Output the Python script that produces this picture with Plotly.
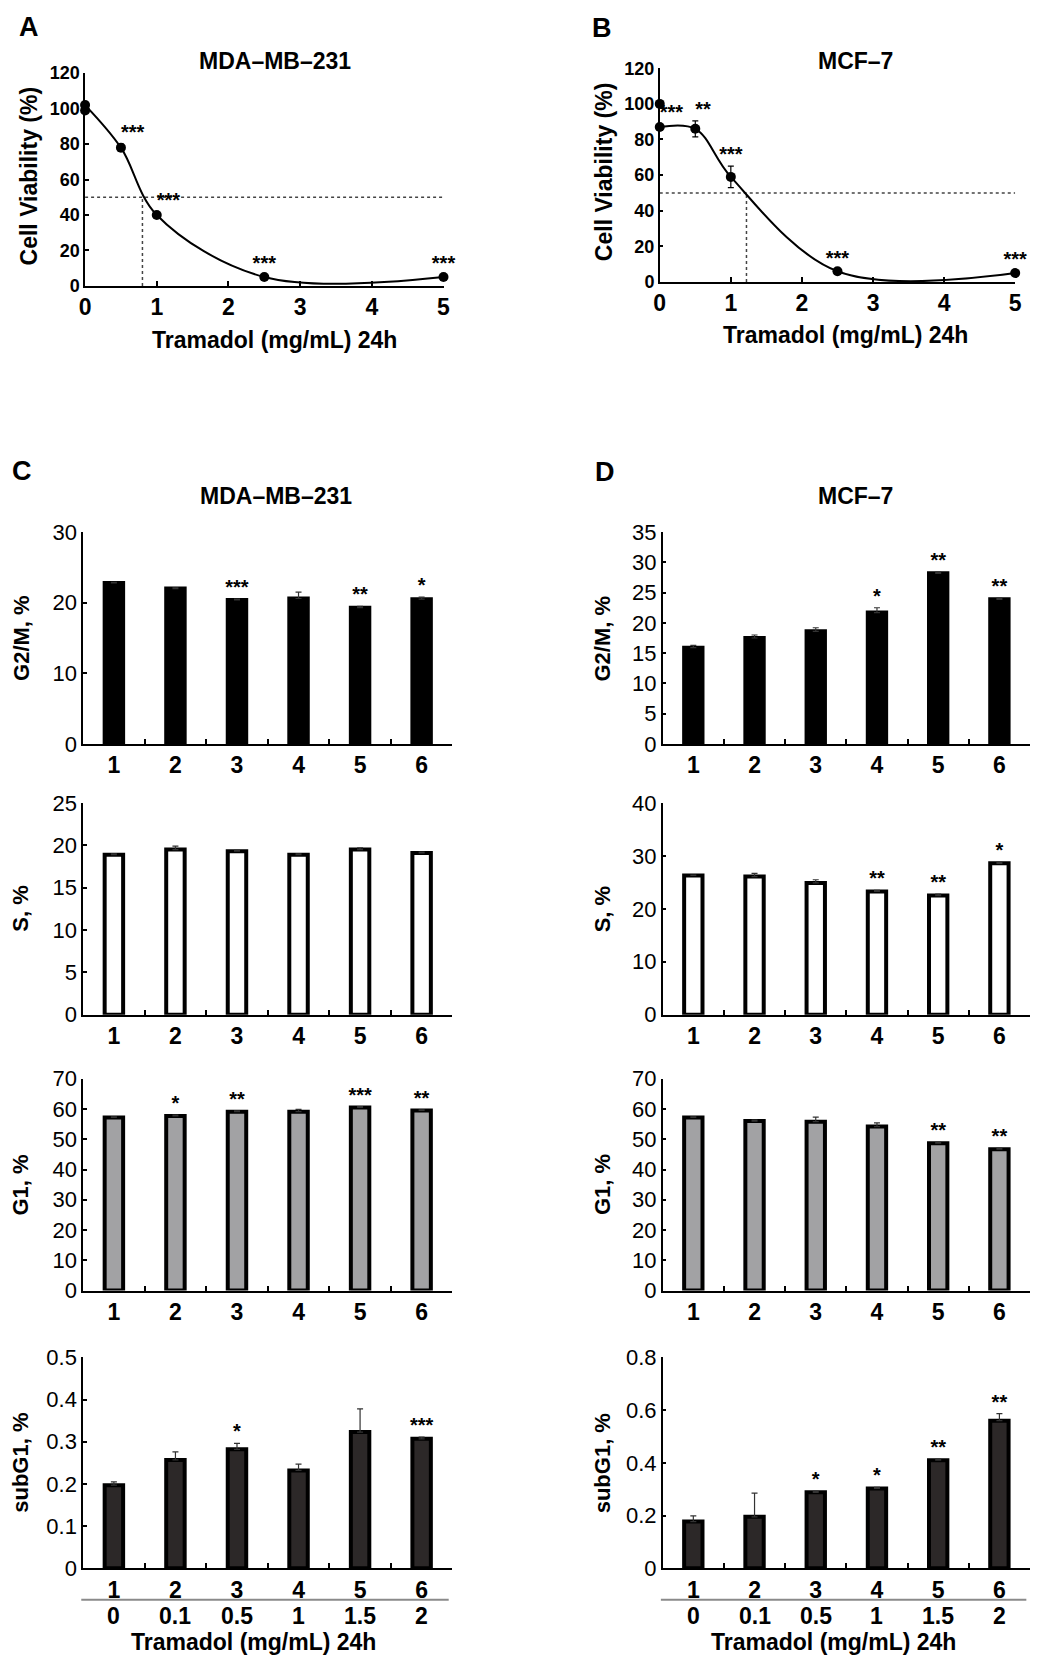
import plotly.graph_objects as go

W, H = 1046, 1670          # page size
PAD = 8                    # default body margin of the html page
FW, FH = W - 2 * PAD, H - 2 * PAD
FONT = "Liberation Sans, Arial, sans-serif"

# ---- A / B : cell viability curves ----
dose_mg = [0, 0.5, 1, 2.5, 5]
viab_ticks = [0, 20, 40, 60, 80, 100, 120]
half_viab = 50

mda_viab = [102, 78, 40, 5, 5]
mda_err = [1.5, 2, 1.5, 1, 1]
mda_ctrl = [99]
mda_sig = ["", "***", "***", "***", "***"]
mda_ic50 = 0.8

mcf_viab = [87, 86, 59, 6, 5]
mcf_err = [1.5, 4.5, 6, 1, 1]
mcf_ctrl = [100]
mcf_sig = ["***", "**", "***", "***", "***"]
mcf_ic50 = 1.22

# ---- C / D : cell cycle bars ----
groups = ["1", "2", "3", "4", "5", "6"]
tramadol_doses = ["0", "0.1", "0.5", "1", "1.5", "2"]

c_g2m = [22.8, 22.0, 20.4, 20.6, 19.3, 20.5]
c_g2m_err = [0.1, 0.1, 0.1, 0.9, 0.2, 0.3]
c_g2m_sig = ["", "", "***", "", "**", "*"]
c_s = [18.9, 19.5, 19.3, 18.9, 19.5, 19.1]
c_s_err = [0.1, 0.4, 0.1, 0.1, 0.2, 0.1]
c_s_sig = ["", "", "", "", "", ""]
c_g1 = [57.2, 57.7, 59.1, 59.1, 60.5, 59.5]
c_g1_err = [0.2, 0.3, 0.3, 0.8, 0.3, 0.2]
c_g1_sig = ["", "*", "**", "", "***", "**"]
c_sub = [0.197, 0.257, 0.282, 0.232, 0.323, 0.307]
c_sub_err = [0.008, 0.019, 0.014, 0.015, 0.055, 0.004]
c_sub_sig = ["", "", "*", "", "", "***"]

d_g2m = [15.9, 17.5, 18.6, 21.7, 28.2, 23.9]
d_g2m_err = [0.4, 0.5, 0.6, 0.8, 0.2, 0.2]
d_g2m_sig = ["", "", "", "*", "**", "**"]
d_s = [26.3, 26.1, 24.9, 23.3, 22.5, 28.6]
d_s_err = [0.1, 0.6, 0.6, 0.2, 0.3, 0.2]
d_s_sig = ["", "", "", "**", "**", "*"]
d_g1 = [57.2, 56.0, 55.8, 54.2, 48.7, 46.7]
d_g1_err = [0.2, 0.3, 1.5, 1.2, 0.3, 0.3]
d_g1_sig = ["", "", "", "", "**", "**"]
d_sub = [0.177, 0.195, 0.288, 0.303, 0.41, 0.56]
d_sub_err = [0.022, 0.09, 0.004, 0.004, 0.004, 0.027]
d_sub_sig = ["", "", "*", "*", "**", "**"]


# page pixel -> paper coords
def xdom(a, b):
    return [(a - PAD) / FW, (b - PAD) / FW]


def ydom(top, bottom):
    return [1 - (bottom - PAD) / FH, 1 - (top - PAD) / FH]


def px(x, y):
    return (x - PAD) / FW, 1 - (y - PAD) / FH


fig = go.Figure()
layout = dict(
    width=FW, height=FH, margin=dict(l=0, r=0, t=0, b=0),
    plot_bgcolor="white", paper_bgcolor="white", showlegend=False,
    font=dict(family=FONT, color="black"),
)
annotations = []
shapes = []


def ann(text, x, y, size, angle=0):
    ax, ay = px(x, y)
    annotations.append(dict(
        text=f"<b>{text}</b>", x=ax, y=ay, xref="paper", yref="paper",
        xanchor="center", yanchor="middle", showarrow=False, textangle=angle,
        font=dict(family=FONT, size=size, color="black")))


# ---------- curves ----------
curve_panels = [
    dict(n=1, xd=(80, 443), yd=(62, 278), v=mda_viab, e=mda_err, ctrl=mda_ctrl,
         sig=mda_sig, ic=mda_ic50,
         pos=["top center", "top right", "top right", "top center", "top center"]),
    dict(n=2, xd=(662, 1022), yd=(57, 274), v=mcf_viab, e=mcf_err, ctrl=mcf_ctrl,
         sig=mcf_sig, ic=mcf_ic50,
         pos=["top right", "top right", "top center", "top center", "top center"]),
]

for p in curve_panels:
    n = p["n"]
    xa, ya = f"x{n}", f"y{n}"
    # dotted IC50 guides
    fig.add_trace(go.Scatter(x=[dose_mg[0], dose_mg[-1]], y=[half_viab, half_viab],
                             mode="lines", line=dict(color="#444", width=1.5, dash="dot"),
                             xaxis=xa, yaxis=ya, hoverinfo="skip"))
    fig.add_trace(go.Scatter(x=[p["ic"], p["ic"]], y=[0, half_viab],
                             mode="lines", line=dict(color="#444", width=1.5, dash="dot"),
                             xaxis=xa, yaxis=ya, hoverinfo="skip"))
    fig.add_trace(go.Scatter(x=dose_mg, y=p["v"], mode="lines+markers",
                             line=dict(color="black", width=2, shape="spline"),
                             marker=dict(color="black", size=10),
                             error_y=dict(type="data", array=p["e"], color="black",
                                          thickness=1.2, width=3),
                             cliponaxis=False, xaxis=xa, yaxis=ya))
    fig.add_trace(go.Scatter(x=dose_mg[:1], y=p["ctrl"], mode="markers",
                             marker=dict(color="black", size=10),
                             cliponaxis=False, xaxis=xa, yaxis=ya))
    fig.add_trace(go.Scatter(x=dose_mg, y=[v + e for v, e in zip(p["v"], p["e"])],
                             mode="text", text=p["sig"], textposition=p["pos"],
                             textfont=dict(family=FONT, size=20, color="black", weight="bold"),
                             cliponaxis=False, xaxis=xa, yaxis=ya))
    layout[f"xaxis{n}"] = dict(
        domain=xdom(*p["xd"]), anchor=ya, range=[0, 5], tickvals=[0, 1, 2, 3, 4, 5],
        ticks="inside", ticklen=5, tickwidth=1.5, tickcolor="black",
        showline=True, linecolor="black", linewidth=1.5, showgrid=False, zeroline=False,
        tickfont=dict(family=FONT, size=23, color="black", weight="bold"))
    layout[f"yaxis{n}"] = dict(
        domain=ydom(*p["yd"]), anchor=xa, range=[0, 120], tickvals=viab_ticks,
        ticks="inside", ticklen=4, tickwidth=1.5, tickcolor="black",
        showline=True, linecolor="black", linewidth=1.5, showgrid=False, zeroline=False,
        tickfont=dict(family=FONT, size=18, color="black", weight="bold"))

# ---------- bars ----------
row_y = [(528, 743), (803, 1018), (1083, 1298), (1366, 1580)]
row_titles = ["G2/M, %", "S, %", "G1, %", "subG1, %"]
row_fill = ["black", "white", "#a2a2a4", "#2c2828"]
c_rows = [
    (c_g2m, c_g2m_err, c_g2m_sig, 30, 10),
    (c_s, c_s_err, c_s_sig, 25, 5),
    (c_g1, c_g1_err, c_g1_sig, 70, 10),
    (c_sub, c_sub_err, c_sub_sig, 0.5, 0.1),
]
d_rows = [
    (d_g2m, d_g2m_err, d_g2m_sig, 35, 5),
    (d_s, d_s_err, d_s_sig, 40, 10),
    (d_g1, d_g1_err, d_g1_sig, 70, 10),
    (d_sub, d_sub_err, d_sub_sig, 0.8, 0.2),
]

n = 3
for col_x, rows, title_x in [((78, 452), c_rows, 15), ((665, 1037), d_rows, 604)]:
    for r, (vals, errs, sig, ymax, dt) in enumerate(rows):
        xa, ya = f"x{n}", f"y{n}"
        fig.add_trace(go.Bar(x=groups, y=vals, width=0.3,
                             marker=dict(color=row_fill[r], line=dict(color="black", width=4)),
                             error_y=dict(type="data", array=errs, arrayminus=[0] * 6,
                                          symmetric=False, color="#333", thickness=1.2, width=3),
                             xaxis=xa, yaxis=ya))
        fig.add_trace(go.Scatter(x=groups, y=[v + e for v, e in zip(vals, errs)],
                                 mode="text", text=sig, textposition="top center",
                                 textfont=dict(family=FONT, size=20, color="black", weight="bold"),
                                 cliponaxis=False, xaxis=xa, yaxis=ya))
        layout[f"xaxis{n}"] = dict(
            domain=xdom(*col_x), anchor=ya, type="category", range=[-0.5, 5.5],
            tickson="boundaries", ticks="inside", ticklen=5, tickwidth=1.5, tickcolor="black",
            showline=True, linecolor="black", linewidth=2, showgrid=False, zeroline=False,
            tickfont=dict(family=FONT, size=23, color="black", weight="bold"))
        layout[f"yaxis{n}"] = dict(
            domain=ydom(*row_y[r]), anchor=xa, range=[0, ymax], dtick=dt,
            ticks="inside", ticklen=4, tickwidth=1.5, tickcolor="black",
            showline=True, linecolor="black", linewidth=1.5, showgrid=False, zeroline=False,
            tickfont=dict(family=FONT, size=22, color="black"))
        ann(row_titles[r], title_x, (row_y[r][0] + row_y[r][1]) / 2, 22, angle=-90)
        if r == 3:
            # second label row: tramadol concentrations (category index positions)
            for i, d in enumerate(tramadol_doses):
                annotations.append(dict(
                    text=f"<b>{d}</b>", x=i, y=px(0, 1628)[1], xref=xa, yref="paper",
                    xanchor="center", yanchor="middle", showarrow=False,
                    font=dict(family=FONT, size=23, color="black")))
            sep_y = px(0, 1612)[1]
            shapes.append(dict(type="line", xref=f"{xa} domain", yref="paper",
                               x0=-0.005, x1=0.99, y0=sep_y, y1=sep_y,
                               line=dict(color="#8a8a8a", width=2)))
        n += 1

# ---------- text ----------
ann("A", 23, 15, 27)
ann("B", 604, 16, 27)
ann("C", 16, 466, 27)
ann("D", 607, 467, 27)
ann("MDA\u2013MB\u2013231", 272, 50, 23)
ann("MCF\u20137", 860, 50, 23)
ann("MDA\u2013MB\u2013231", 273, 491, 23)
ann("MCF\u20137", 860, 491, 23)
ann("Cell Viability (%)", 23, 166, 23, angle=-90)
ann("Cell Viability (%)", 605, 162, 23, angle=-90)
ann("Tramadol (mg/mL) 24h", 272, 333, 23)
ann("Tramadol (mg/mL) 24h", 850, 328, 23)
ann("Tramadol (mg/mL) 24h", 251, 1655, 23)
ann("Tramadol (mg/mL) 24h", 838, 1655, 23)

layout["annotations"] = annotations
layout["shapes"] = shapes
fig.update_layout(**layout)

fig.write_html("out.html")
